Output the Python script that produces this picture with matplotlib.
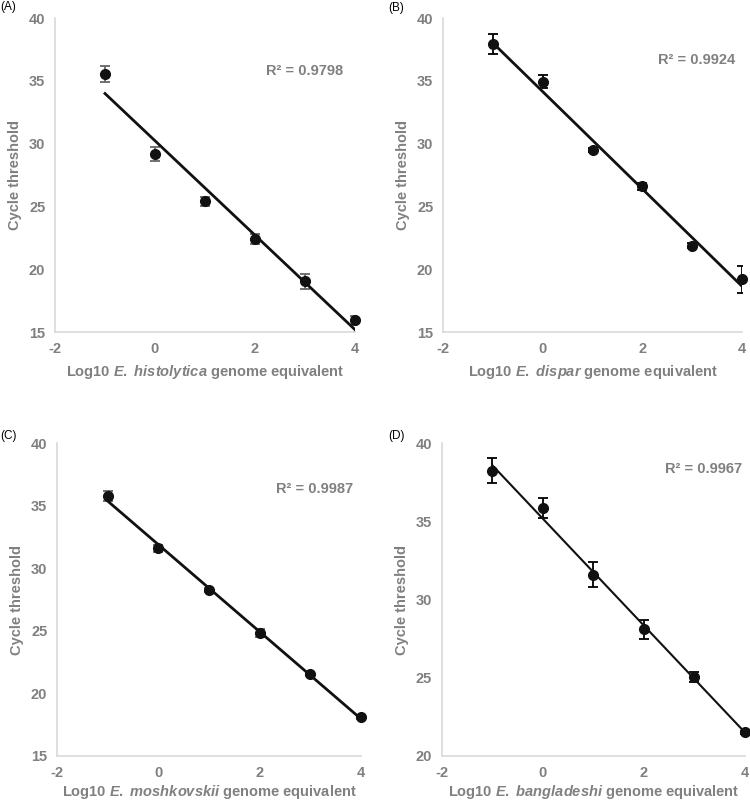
import numpy as np
import matplotlib.pyplot as plt

plt.rcParams['font.family'] = ['Liberation Sans', 'DejaVu Sans']
plt.rcParams['axes.unicode_minus'] = False
plt.rcParams['mathtext.fontset'] = 'custom'
plt.rcParams['mathtext.it'] = 'Liberation Sans:italic:bold'
plt.rcParams['mathtext.rm'] = 'Liberation Sans:bold'

log_ge = np.array([-1, 0, 1, 2, 3, 4])

# cycle threshold means and error bars for each species
ct_hist = np.array([35.56, 29.2, 25.4, 22.42, 19.04, 15.93])
err_hist = np.array([0.65, 0.55, 0.35, 0.4, 0.6, 0.35])
ct_disp = np.array([37.9, 34.94, 29.48, 26.59, 21.87, 19.19])
err_disp = np.array([0.8, 0.5, 0.15, 0.25, 0.2, 1.05])
ct_mosh = np.array([35.74, 31.6, 28.27, 24.81, 21.56, 18.1])
err_mosh = np.array([0.4, 0.3, 0.15, 0.3, 0.15, 0.15])
ct_bang = np.array([38.25, 35.84, 31.58, 28.1, 25.05, 21.51])
err_bang = np.array([0.8, 0.64, 0.8, 0.62, 0.3, 0.1])

species = ['histolytica', 'dispar', 'moshkovskii', 'bangladeshi']
r2_labels = ['R² = 0.9798', 'R² = 0.9924', 'R² = 0.9987', 'R² = 0.9967']
panel_tags = ['(A)', '(B)', '(C)', '(D)']
y_ranges = [(15, 40), (15, 40), (15, 40), (20, 40)]
err_colors = ['#666666', 'black', '#666666', 'black']
line_widths = [2.0, 2.0, 2.0, 1.5]

gray = '#808080'
W, H = 750, 802

fig = plt.figure(figsize=(7.5, 8.02), dpi=100)
rects = [
    [0.0733, 0.586, 0.400, 0.3915],
    [0.5907, 0.586, 0.3987, 0.3915],
    [0.076, 0.0574, 0.405, 0.390],
    [0.589, 0.0574, 0.404, 0.390],
]
# pixel centres of the R² annotations and panel tags
r2_px = [(305, 71), (697, 60), (315, 489), (704, 469)]
tag_px = [(0, 7), (388, 8), (0, 436), (388, 436)]
xlabel_pads = [5, 5, 2.5, 2.5]

all_ct = [ct_hist, ct_disp, ct_mosh, ct_bang]
all_err = [err_hist, err_disp, err_mosh, err_bang]

for i in range(4):
    ax = fig.add_axes(rects[i])
    ct = all_ct[i]
    ax.errorbar(log_ge, ct, yerr=all_err[i], fmt='none', ecolor=err_colors[i],
                elinewidth=1.3, capsize=3.5, capthick=1.3, zorder=2)
    ax.plot(log_ge, ct, 'o', color='#111111', markersize=7, zorder=3, clip_on=False)
    slope, icpt = np.polyfit(log_ge, ct, 1)
    xs = np.array([log_ge[0], log_ge[-1]])
    ax.plot(xs, slope * xs + icpt, color='#111111', lw=line_widths[i], zorder=4)

    ax.set_xlim(-2, 4)
    ax.set_ylim(*y_ranges[i])
    ax.set_xticks([-2, 0, 2, 4])
    ax.set_yticks(np.arange(y_ranges[i][0], 41, 5))
    for s in ['top', 'right']:
        ax.spines[s].set_visible(False)
    for s in ['left', 'bottom']:
        ax.spines[s].set_color('#d9d9d9')
        ax.spines[s].set_linewidth(1.2)
    ax.tick_params(length=0, pad=7, labelsize=10.5, labelcolor=gray)
    for lab in ax.get_xticklabels() + ax.get_yticklabels():
        lab.set_fontweight('bold')
    ax.set_ylabel('Cycle threshold', fontsize=10.5, color=gray, fontweight='bold', labelpad=5)
    ax.set_xlabel('Log10 $\\mathit{E.\\ ' + species[i] + '}$ genome equivalent',
                  fontsize=10.5, color=gray, fontweight='bold', labelpad=xlabel_pads[i])
    fig.text(r2_px[i][0] / W, 1 - r2_px[i][1] / H, r2_labels[i], ha='center', va='center',
             fontsize=10.5, color=gray, fontweight='bold')
    fig.text(tag_px[i][0] / W, 1 - tag_px[i][1] / H, panel_tags[i], ha='left', va='center',
             fontsize=8.5, color='black')

fig.savefig('out.png', dpi=100)
